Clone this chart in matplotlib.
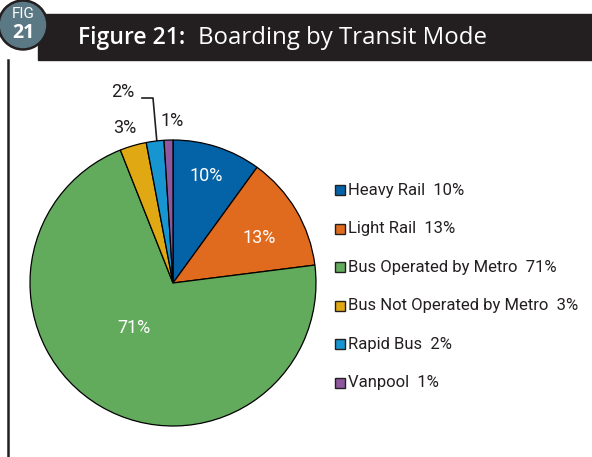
import matplotlib.pyplot as plt
from matplotlib.patches import Rectangle, Circle

modes = ['Heavy Rail', 'Light Rail', 'Bus Operated by Metro',
         'Bus Not Operated by Metro', 'Rapid Bus', 'Vanpool']
shares = [10, 13, 71, 3, 2, 1]
colors = ['#0363a6', '#e06a1e', '#62aa5c', '#e0a812', '#1795d1', '#8d589e']

W, H = 592, 457
fig = plt.figure(figsize=(W / 100, H / 100), dpi=100)

def fx(x):
    return x / W

def fy(y):
    return 1 - y / H

# header
bg = fig.add_axes([0, 0, 1, 1])
bg.set_xlim(0, W)
bg.set_ylim(H, 0)
bg.axis('off')
bg.add_patch(Rectangle((38, 14), W - 38, 46, color='#231f20', zorder=1))
bg.add_patch(Circle((23, 25), 25, color='#231f20', zorder=2))
bg.add_patch(Circle((23, 25), 22.5, color='#5b7885', zorder=3))
bg.text(23, 14, 'FIG', color='white', fontsize=11, ha='center', va='center',
        family='Roboto', zorder=4)
bg.text(23, 33, '21', color='white', fontsize=14, fontweight='bold', ha='center',
        va='center', family='Open Sans', zorder=4)
bg.text(78, 38, 'Figure 21:', color='white', fontsize=16.5, fontweight='semibold',
        ha='left', va='center', family='Open Sans', zorder=4)
bg.text(198, 38, 'Boarding by Transit Mode', color='white', fontsize=17.3,
        ha='left', va='center', family='Open Sans', zorder=4)
bg.plot([8, 8], [60, H], color='#231f20', lw=1.8)

# pie
cx, cy, r = 173, 283, 143
ax = fig.add_axes([fx(cx - r), fy(cy + r), 2 * r / W, 2 * r / H])
wedges, _ = ax.pie(shares, colors=colors, startangle=90, counterclock=False,
                   radius=1, wedgeprops=dict(edgecolor='black', linewidth=0.9))
ax.set_xlim(-1, 1)
ax.set_ylim(-1, 1)
ax.set_aspect('auto')
ax.axis('off')

# slice labels (pixel positions), drawn on the figure above the pie
lbl = dict(fontsize=13, family='Roboto', ha='center', va='center', zorder=10)
fig.text(fx(206), fy(176), '10%', color='white', **lbl)
fig.text(fx(259), fy(238), '13%', color='white', **lbl)
fig.text(fx(134), fy(328), '71%', color='white', **lbl)
fig.text(fx(125), fy(128), '3%', color='#231f20', **lbl)
fig.text(fx(123), fy(92), '2%', color='#231f20', **lbl)
fig.text(fx(172), fy(121), '1%', color='#231f20', **lbl)
bg.plot([142, 153, 157], [98, 98, 143], color='#231f20', lw=1.2, zorder=5)

# legend
for i, (m, s, c) in enumerate(zip(modes, shares, colors)):
    y = 190 + i * 38.6
    bg.add_patch(Rectangle((335, y - 5), 10, 10, facecolor=c, edgecolor='#231f20',
                           lw=1, zorder=5))
    bg.text(348, y, f'{m}  {s}%', fontsize=12, family='Roboto',
            color='#231f20', ha='left', va='center')

fig.savefig('out.png', dpi=100)
